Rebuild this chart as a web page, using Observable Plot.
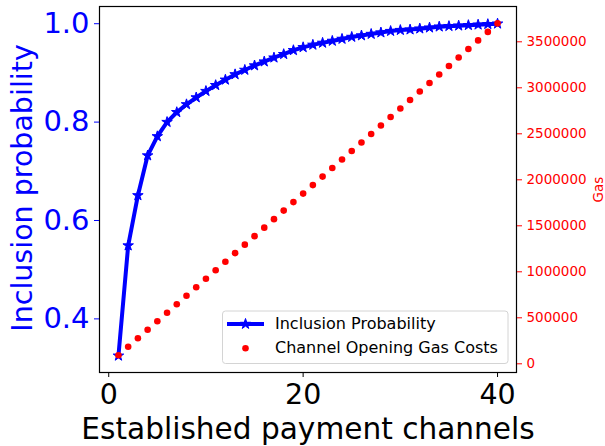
<!DOCTYPE html>
<html>
<head>
<meta charset="utf-8">
<script src="https://cdn.jsdelivr.net/npm/d3@7"></script>
<script src="https://cdn.jsdelivr.net/npm/@observablehq/plot@0.6"></script>
<style>
  html, body { margin: 0; padding: 0; background: white; }
  #wrap { position: relative; width: 605px; height: 446px; font-family: "DejaVu Sans", sans-serif; }
  #wrap > .layer { position: absolute; left: 0; top: 0; }
  .leg-text { position: absolute; font-size: 16px; color: black; white-space: nowrap; transform: translateY(-50%); line-height: 1; }
</style>
</head>
<body>
<div id="wrap"></div>
<script>
// ---- data ----
const channels = [1,2,3,4,5,6,7,8,9,10,11,12,13,14,15,16,17,18,19,20,
                  21,22,23,24,25,26,27,28,29,30,31,32,33,34,35,36,37,38,39,40];
const inclusionProbability = [0.325,0.549,0.651,0.732,0.771,0.800,0.820,0.836,0.850,0.863,
                              0.875,0.886,0.897,0.906,0.915,0.923,0.931,0.938,0.946,0.952,
                              0.957,0.961,0.965,0.969,0.973,0.976,0.979,0.982,0.985,0.987,
                              0.988,0.990,0.992,0.994,0.995,0.996,0.997,0.998,0.999,1.000];
const gasCosts = [92500,185000,277500,370000,462500,555000,647500,740000,832500,925000,
                  1017500,1110000,1202500,1295000,1387500,1480000,1572500,1665000,1757500,1850000,
                  1942500,2035000,2127500,2220000,2312500,2405000,2497500,2590000,2682500,2775000,
                  2867500,2960000,3052500,3145000,3237500,3330000,3422500,3515000,3607500,3700000];
const xTicks = [0, 20, 40];
const probTicks = [0.4, 0.6, 0.8, 1.0];
const gasTicks = [0, 500000, 1000000, 1500000, 2000000, 2500000, 3000000, 3500000];
const xLabel = "Established payment channels";
const yLabel = "Inclusion probability";
const y2Label = "Gas";
const legendLabels = ["Inclusion Probability", "Channel Opening Gas Costs"];

const rows = channels.map((c, i) => ({channel: c, prob: inclusionProbability[i], gas: gasCosts[i]}));

const common = {
  width: 605, height: 446,
  marginLeft: 99, marginRight: 89, marginTop: 6, marginBottom: 74,
  style: {fontFamily: "DejaVu Sans", background: "transparent", overflow: "visible"}
};

const p1 = Plot.plot({
  ...common,
  x: {domain: [-0.95, 41.95]},
  y: {domain: [0.291, 1.035]},
  marks: [
    Plot.frame({stroke: "black", strokeWidth: 1.2}),
    Plot.axisX({ticks: xTicks, tickSize: 5, tickPadding: 6, fontSize: 28.5, label: null, color: "black"}),
    Plot.axisY({ticks: probTicks, tickFormat: d3.format(".1f"), tickSize: 5, tickPadding: 5, fontSize: 29, label: null, color: "blue"}),
    Plot.text([xLabel], {frameAnchor: "bottom", dy: 66, lineAnchor: "bottom", textAnchor: "middle", fontSize: 29.6, fill: "black"}),
    Plot.text([yLabel], {frameAnchor: "left", rotate: -90, dx: -68, dy: -1.5, lineAnchor: "bottom", textAnchor: "middle", fontSize: 28.5, fill: "blue"}),
    Plot.line(rows, {x: "channel", y: "prob", stroke: "blue", strokeWidth: 4}),
    Plot.dot(rows, {x: "channel", y: "prob", symbol: "star", r: 3.3, fill: "blue", stroke: "blue", strokeWidth: 1})
  ]
});
p1.classList.add("layer");

const p2 = Plot.plot({
  ...common,
  x: {domain: [-0.95, 41.95], axis: null},
  y: {domain: [-94565, 3883700], axis: null},
  marks: [
    Plot.axisY({anchor: "right", ticks: gasTicks, tickFormat: d3.format("d"), tickSize: 5, tickPadding: 5, fontSize: 13.5, label: null, color: "red"}),
    Plot.text([y2Label], {frameAnchor: "right", rotate: -90, dx: 86, lineAnchor: "bottom", textAnchor: "middle", fontSize: 13.5, fill: "red"}),
    Plot.dot(rows, {x: "channel", y: "gas", r: 3.3, fill: "red"})
  ]
});
p2.classList.add("layer");

const wrap = document.getElementById("wrap");
wrap.appendChild(p1);
wrap.appendChild(p2);

// ---- legend ----
const leg = document.createElementNS("http://www.w3.org/2000/svg", "svg");
leg.setAttribute("width", 605);
leg.setAttribute("height", 446);
leg.setAttribute("class", "layer");
const ls = d3.select(leg);
ls.append("rect").attr("x", 222.5).attr("y", 311).attr("width", 285.5).attr("height", 52.5)
  .attr("rx", 3).attr("fill", "white").attr("fill-opacity", 0.8).attr("stroke", "#d4d4d4").attr("stroke-width", 1);
ls.append("line").attr("x1", 227).attr("x2", 264).attr("y1", 324).attr("y2", 324)
  .attr("stroke", "blue").attr("stroke-width", 4);
ls.append("path").attr("transform", "translate(245.5,324)")
  .attr("d", d3.symbol(d3.symbolStar, 3.3 * 3.3 * Math.PI)())
  .attr("fill", "blue").attr("stroke", "blue").attr("stroke-width", 1);
ls.append("circle").attr("cx", 245.5).attr("cy", 348.3).attr("r", 3.3).attr("fill", "red");
wrap.appendChild(leg);

[[legendLabels[0], 324], [legendLabels[1], 348.3]].forEach(([t, y]) => {
  const d = document.createElement("div");
  d.className = "leg-text";
  d.style.left = "275px";
  d.style.top = y + "px";
  d.textContent = t;
  wrap.appendChild(d);
});
</script>
</body>
</html>
